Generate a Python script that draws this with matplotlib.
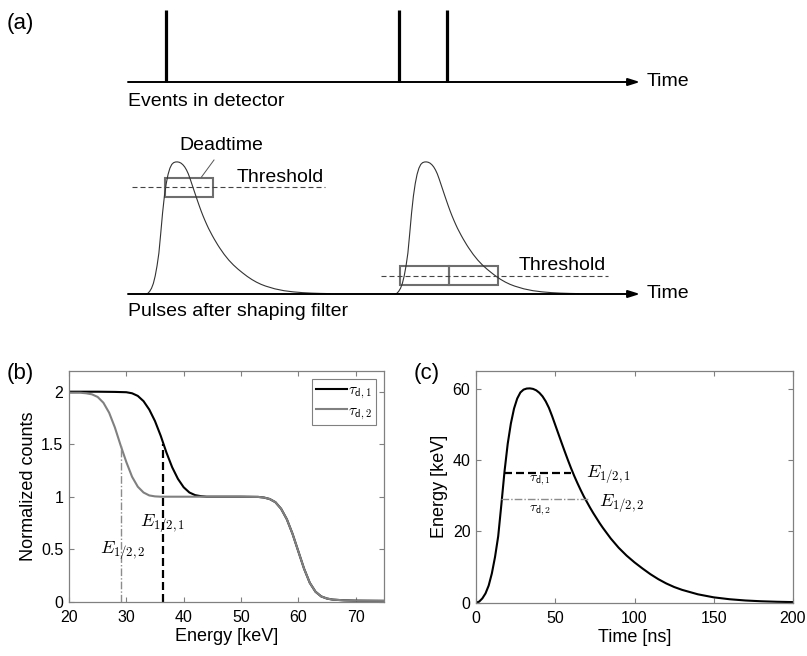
import numpy as np
import matplotlib
matplotlib.use("Agg")
import matplotlib.pyplot as plt
from matplotlib.patches import Rectangle

plt.rcParams['font.family'] = ['Liberation Sans', 'DejaVu Sans']
plt.rcParams['mathtext.fontset'] = 'cm'

# ---- (b) normalized counts vs threshold energy ----
energy_1 = [20, 25, 28, 30, 31, 32, 33, 34, 35, 36, 37, 38, 39, 40, 41, 42, 43, 44, 50,
            53, 54, 55, 56, 57, 58, 59, 60, 61, 62, 63, 64, 65, 66, 68, 70, 75]
counts_1 = [2.0, 2.0, 1.998, 1.995, 1.985, 1.96, 1.91, 1.83, 1.72, 1.58, 1.42, 1.28, 1.17,
            1.09, 1.04, 1.015, 1.005, 1.0, 1.0,
            0.998, 0.992, 0.978, 0.948, 0.885, 0.785, 0.645, 0.48, 0.315, 0.18, 0.095,
            0.05, 0.03, 0.02, 0.013, 0.01, 0.008]
energy_2 = [20, 22, 23, 24, 25, 26, 27, 28, 29, 30, 31, 32, 33, 34, 35, 36, 50,
            53, 54, 55, 56, 57, 58, 59, 60, 61, 62, 63, 64, 65, 66, 68, 70, 75]
counts_2 = [1.99, 1.99, 1.985, 1.975, 1.95, 1.895, 1.80, 1.66, 1.49, 1.33, 1.19, 1.095,
            1.04, 1.012, 1.003, 1.0, 1.0,
            0.998, 0.992, 0.978, 0.948, 0.885, 0.785, 0.645, 0.48, 0.315, 0.18, 0.095,
            0.05, 0.03, 0.02, 0.013, 0.01, 0.008]
e_half = [36.4, 29.0]
half_counts = 1.5

# ---- (c) shaped pulse ----
pulse_t = [0, 2, 4, 6, 8, 10, 12, 14, 16, 18, 20, 22, 24, 26, 28, 30, 32, 34, 36, 38, 40,
           42, 44, 46, 48, 50, 52, 54, 56, 58, 60, 62, 64, 66, 68, 70, 72, 74, 76, 78, 80,
           85, 90, 95, 100, 105, 110, 115, 120, 125, 130, 140, 150, 160, 170, 180, 190, 200]
pulse_e = [0, 0.3, 1.2, 2.6, 4.8, 8.2, 12.8, 18.6, 27.5, 36.8, 44.5, 50.2, 54.4, 57.2, 58.9,
           59.7, 60.0, 60.05, 59.9, 59.5, 58.8, 57.8, 56.4, 54.6, 52.3, 49.8, 47.3, 44.8,
           42.35, 39.95, 37.65, 35.5, 33.5, 31.6, 29.8, 28.2, 26.6, 25.1, 23.7, 22.3, 21.0,
           18.0, 15.4, 13.2, 11.3, 9.6, 8.0, 6.6, 5.4, 4.4, 3.6, 2.35, 1.5, 0.97, 0.62,
           0.4, 0.26, 0.17]
dead_start = [17.9, 15.6]
dead_end = [60.0, 70.4]

# ---- (a) schematic (drawing units = pixels) ----
event_x = [166, 399, 447]
pulse_start_x = [146, 395]
threshold_y = [187, 276]
threshold_span = [(132, 325), (381, 608)]
deadtime_boxes = [(165, 213, 178, 197), (400, 449, 266, 285), (449, 498, 266, 285)]

fig = plt.figure(figsize=(8.07, 6.56), dpi=100)

# ===== panel (a) =====
axa = fig.add_axes([0, 1 - 320 / 656, 1, 320 / 656])
axa.set_xlim(0, 807)
axa.set_ylim(320, 0)
axa.axis('off')
for yb in (82, 294):
    axa.annotate('', xy=(640, yb), xytext=(128, yb),
                 arrowprops=dict(arrowstyle='-|>,head_length=0.7,head_width=0.22',
                                 lw=1.4, color='black', shrinkA=0, shrinkB=0))
    axa.text(647, yb, 'Time', fontsize=14, va='center', ha='left')
axa.vlines(event_x, 10, 82, colors='black', lw=2.3)
axa.text(128, 101, 'Events in detector', fontsize=14, va='center', ha='left')
axa.text(128, 311, 'Pulses after shaping filter', fontsize=14, va='center', ha='left')

pt = np.array(pulse_t)
pe = np.array(pulse_e)
for x0 in pulse_start_x:
    axa.plot(x0 + pt * 0.92, 294 - pe * 2.2, color='#333333', lw=0.8)
for yth, (xa, xb) in zip(threshold_y, threshold_span):
    axa.plot([xa, xb], [yth, yth], color='#444444', lw=0.8, dashes=(4.5, 2.7))
for (x0, x1, y0, y1) in deadtime_boxes:
    axa.add_patch(Rectangle((x0, y0), x1 - x0, y1 - y0, fill=False,
                            edgecolor='#6e6e6e', lw=1.5))
axa.plot([214, 201.5], [160, 177], color='#555555', lw=0.7)
axa.text(179, 146, 'Deadtime', fontsize=14, va='center', ha='left')
axa.text(237, 177, 'Threshold', fontsize=14, va='center', ha='left')
axa.text(519, 266, 'Threshold', fontsize=14, va='center', ha='left')


def style_axes(ax):
    ax.tick_params(direction='in', top=True, right=True, length=3.5, width=0.8,
                   color='#808080', labelsize=11.5)
    ax.tick_params(axis='x', pad=6)
    ax.tick_params(axis='y', pad=4)
    for sp in ax.spines.values():
        sp.set_color('#808080')
        sp.set_linewidth(0.9)


# ===== panel (b) =====
axb = fig.add_axes([69 / 807, (656 - 601.7) / 656, 315.3 / 807, 231 / 656])
axb.plot(energy_1, counts_1, color='black', lw=1.5, label=r'$\tau_{\mathsf{d,1}}$')
axb.plot(energy_2, counts_2, color='#808080', lw=1.5, label=r'$\tau_{\mathsf{d,2}}$')
axb.plot([e_half[0], e_half[0]], [0, half_counts], color='black', lw=1.6, dashes=(3.6, 1.8))
axb.plot([e_half[1], e_half[1]], [0, half_counts], color='#8c8c8c', lw=1.0,
         dashes=(5.5, 1.5, 1, 1.5))
axb.set_xlim(20, 75)
axb.set_ylim(0, 2.2)
axb.set_xticks([20, 30, 40, 50, 60, 70])
axb.set_yticks([0, 0.5, 1, 1.5, 2])
axb.set_yticklabels(['0', '0.5', '1', '1.5', '2'])
axb.set_xlabel('Energy [keV]', fontsize=13, labelpad=2)
axb.set_ylabel('Normalized counts', fontsize=13, labelpad=3)
axb.text(32.3, 0.745, r'$E_{1/2,1}$', fontsize=13, va='center', ha='left')
axb.text(25.4, 0.49, r'$E_{1/2,2}$', fontsize=13, va='center', ha='left')
leg = axb.legend(loc='upper right', fontsize=11, handlelength=2.0, handletextpad=0.1,
                 borderaxespad=0.55, borderpad=0.25, labelspacing=0.2, fancybox=False,
                 edgecolor='#808080', framealpha=1)
leg.get_frame().set_linewidth(0.8)
style_axes(axb)

# ===== panel (c) =====
axc = fig.add_axes([476 / 807, (656 - 602.7) / 656, 317 / 807, 232 / 656])
axc.plot(pulse_t, pulse_e, color='black', lw=1.5)
axc.plot([dead_start[0], dead_end[0]], [e_half[0], e_half[0]], color='black', lw=1.6,
         dashes=(3.6, 1.8))
axc.plot([dead_start[1], dead_end[1]], [e_half[1], e_half[1]], color='#8c8c8c', lw=1.0,
         dashes=(5.5, 1.5, 1, 1.5))
axc.set_xlim(0, 200)
axc.set_ylim(0, 65)
axc.set_xticks([0, 50, 100, 150, 200])
axc.set_yticks([0, 20, 40, 60])
axc.set_xlabel('Time [ns]', fontsize=13, labelpad=2)
axc.set_ylabel('Energy [keV]', fontsize=13, labelpad=3)
axc.text(40.4, 34.3, r'$\tau_{\mathsf{d,1}}$', fontsize=10, va='center', ha='center')
axc.text(40.4, 25.9, r'$\tau_{\mathsf{d,2}}$', fontsize=10, va='center', ha='center')
axc.text(69.6, 36.0, r'$E_{1/2,1}$', fontsize=13, va='center', ha='left')
axc.text(77.6, 28.0, r'$E_{1/2,2}$', fontsize=13, va='center', ha='left')
style_axes(axc)

# panel labels
fig.text(7 / 807, 1 - 23 / 656, '(a)', fontsize=16, va='center', ha='left')
fig.text(7 / 807, 1 - 374 / 656, '(b)', fontsize=16, va='center', ha='left')
fig.text(414 / 807, 1 - 373 / 656, '(c)', fontsize=16, va='center', ha='left')

fig.savefig('out.png', dpi=100)
